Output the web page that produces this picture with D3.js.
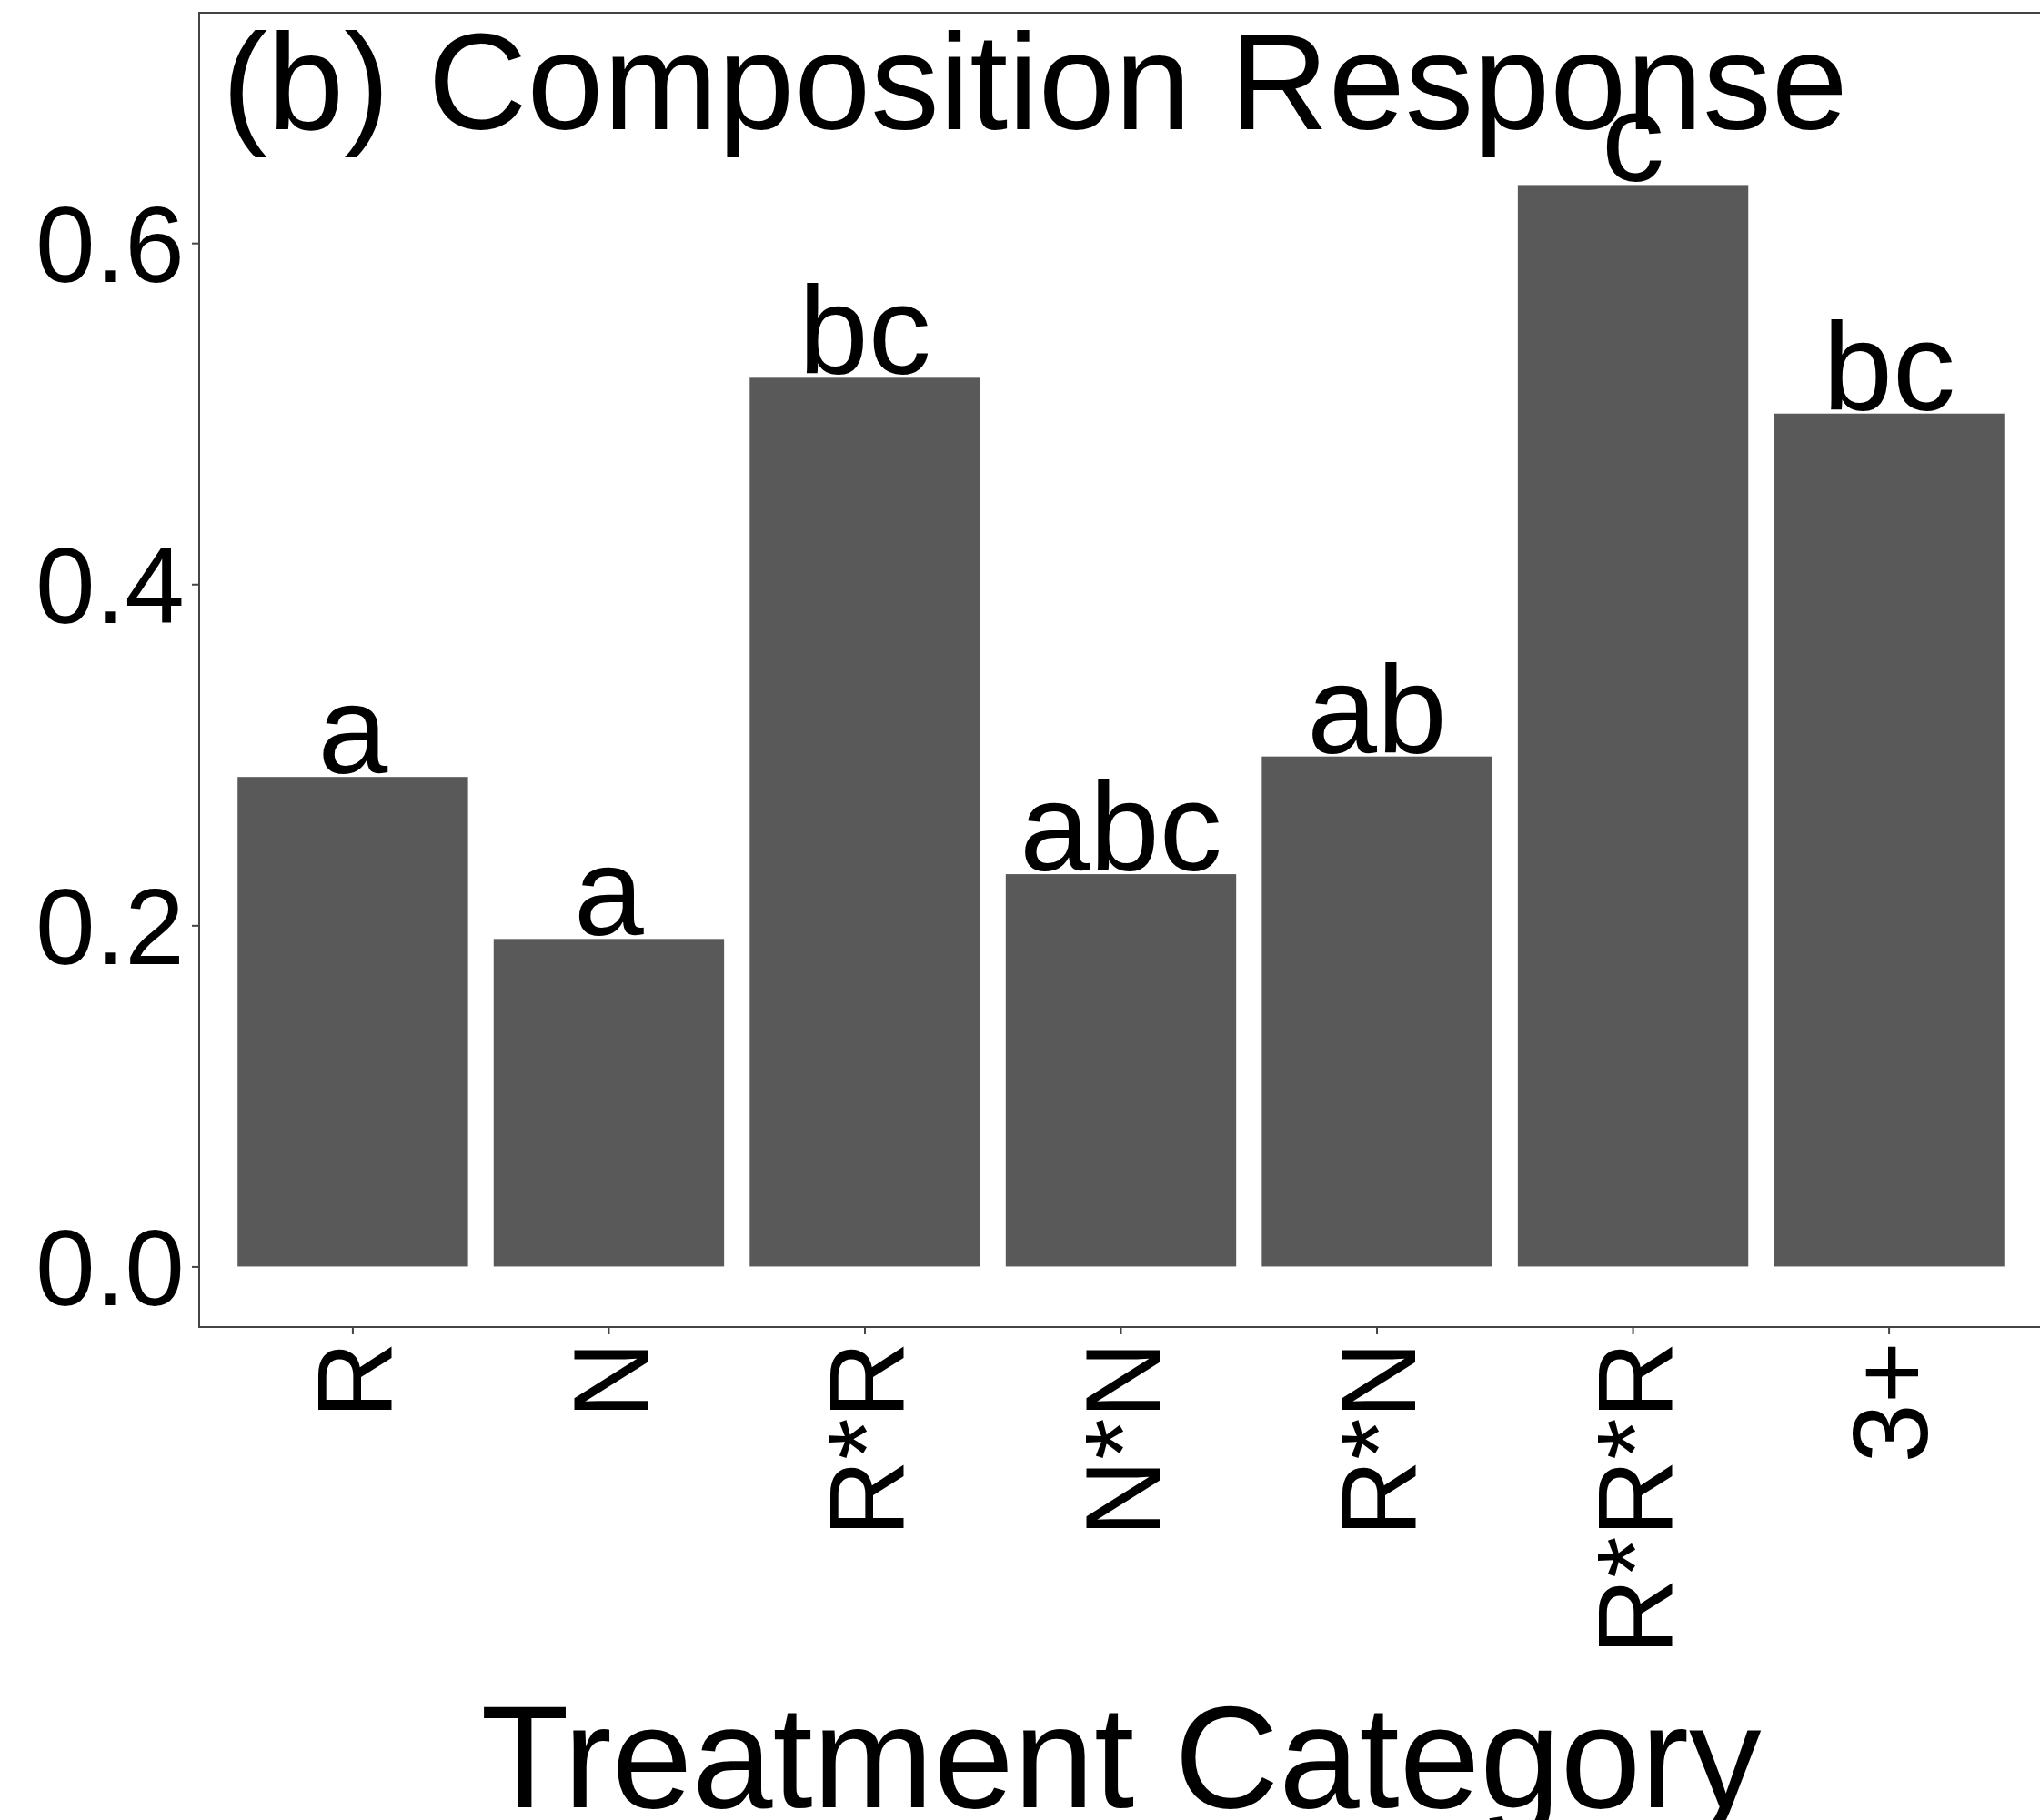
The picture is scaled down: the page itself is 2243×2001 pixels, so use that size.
<!DOCTYPE html>
<html>
<head>
<meta charset="utf-8">
<script src="https://cdn.jsdelivr.net/npm/d3@7"></script>
<style>
  html, body { margin: 0; padding: 0; background: #fff; }
  svg { display: block; }
</style>
</head>
<body>
<script>
const categories = ["R", "N", "R*R", "N*N", "R*N", "R*R*R", "3+"];
const values = [0.287, 0.192, 0.521, 0.230, 0.299, 0.634, 0.500];
const letters = ["a", "a", "bc", "abc", "ab", "c", "bc"];
const yTicks = [0.0, 0.2, 0.4, 0.6];
const titleText = "(b) Composition Response";
const xTitle = "Treatment Category";

const W = 2243, H = 2001;
const panel = { left: 219, right: 2246, top: 14, bottom: 1459 };
const font = "'Liberation Sans', Arial, sans-serif";

const svg = d3.select("body").append("svg")
  .attr("width", W).attr("height", H)
  .style("font-family", font);

const x = d3.scaleBand()
  .domain(categories)
  .range([panel.left, panel.right])
  .paddingInner(0.1)
  .paddingOuter(0.15);

const y = d3.scaleLinear()
  .domain([-0.0355, 0.735])
  .range([panel.bottom, panel.top]);

// bars
svg.append("g").selectAll("rect")
  .data(categories)
  .join("rect")
  .attr("x", d => x(d))
  .attr("width", x.bandwidth())
  .attr("y", (d, i) => y(values[i]))
  .attr("height", (d, i) => y(0) - y(values[i]))
  .attr("fill", "#595959");

// letters
svg.append("g").selectAll("text")
  .data(categories)
  .join("text")
  .attr("x", d => x(d) + x.bandwidth() / 2)
  .attr("y", (d, i) => y(values[i]) - 4)
  .attr("text-anchor", "middle")
  .attr("font-size", 138)
  .attr("fill", "#000")
  .text((d, i) => letters[i]);

// panel border
svg.append("rect")
  .attr("x", panel.left).attr("y", panel.top)
  .attr("width", panel.right - panel.left)
  .attr("height", panel.bottom - panel.top)
  .attr("fill", "none")
  .attr("stroke", "#444")
  .attr("stroke-width", 2);

// y axis
const yAxis = d3.axisLeft(y).tickValues(yTicks).tickFormat(d3.format(".1f")).tickSizeOuter(0).tickSize(8).tickPadding(8);
const gy = svg.append("g").attr("transform", `translate(${panel.left},0)`).call(yAxis);
gy.select(".domain").remove();
gy.selectAll(".tick line").attr("stroke", "#444").attr("stroke-width", 2);
gy.selectAll(".tick text")
  .attr("font-size", 118)
  .attr("font-family", font)
  .attr("fill", "#000")
  .attr("dy", "0.36em");

// x axis
const xAxis = d3.axisBottom(x).tickSizeOuter(0).tickSize(8);
const gx = svg.append("g").attr("transform", `translate(0,${panel.bottom})`).call(xAxis);
gx.select(".domain").remove();
gx.selectAll(".tick line").attr("stroke", "#444").attr("stroke-width", 2);
gx.selectAll(".tick text")
  .attr("font-size", 117)
  .attr("font-family", font)
  .attr("fill", "#000")
  .attr("transform", "rotate(-90)")
  .attr("x", -16)
  .attr("y", 0)
  .attr("dy", "0.36em")
  .attr("text-anchor", "end");

// title annotation
svg.append("text")
  .attr("x", 244)
  .attr("y", 142)
  .attr("font-size", 151)
  .attr("fill", "#000")
  .text(titleText);

// x axis title
svg.append("text")
  .attr("x", (panel.left + panel.right) / 2)
  .attr("y", 1987)
  .attr("text-anchor", "middle")
  .attr("font-size", 159)
  .attr("fill", "#000")
  .text(xTitle);
</script>
</body>
</html>
